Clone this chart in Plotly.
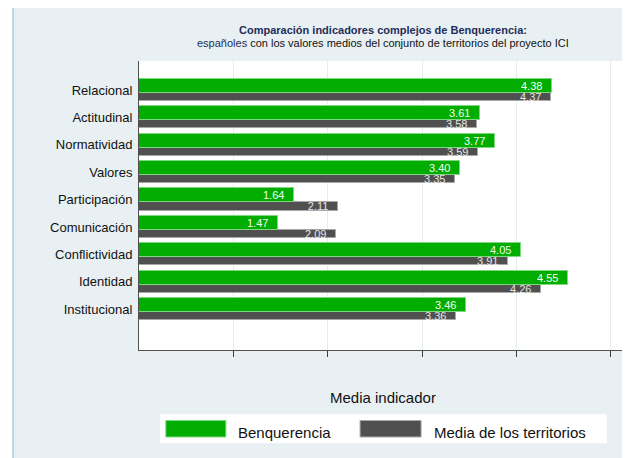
import plotly.graph_objects as go

# Indicadores complejos de Benquerencia
indicadores = ['Relacional', 'Actitudinal', 'Normatividad', 'Valores', 'Participación',
               'Comunicación', 'Conflictividad', 'Identidad', 'Institucional']
benquerencia = [4.38, 3.61, 3.77, 3.40, 1.64, 1.47, 4.05, 4.55, 3.46]
media_territorios = [4.37, 3.58, 3.59, 3.35, 2.11, 2.09, 3.91, 4.26, 3.36]

VERDE = '#00AD00'
GRIS = '#505050'
FONDO = '#E8F0F3'
PAD = '\u00a0\u00a0'

fig = go.Figure()

fig.add_trace(go.Bar(
    x=media_territorios, y=indicadores, orientation='h', name='Media de los territorios',
    marker=dict(color=GRIS, line=dict(color='#A8A8A8', width=1)),
    offset=0.1, width=0.3,
    text=[f'{v:.2f}{PAD}' for v in media_territorios], textposition='inside',
    insidetextanchor='end', textangle=0,
    textfont=dict(color='#E6E6E6', size=11),
))
fig.add_trace(go.Bar(
    x=benquerencia, y=indicadores, orientation='h', name='Benquerencia',
    marker=dict(color=VERDE, line=dict(color='#7ED87E', width=1)),
    offset=-0.41, width=0.51,
    text=[f'{v:.2f}{PAD}' for v in benquerencia], textposition='inside',
    insidetextanchor='end', textangle=0,
    textfont=dict(color='#F2FFF2', size=11),
))

# marco de fondo y área del gráfico
fig.add_shape(type='rect', xref='paper', yref='paper', layer='below',
              x0=-0.258, x1=1.03, y0=-0.42, y1=1.187,
              fillcolor=FONDO, line=dict(color='#BCD6E0', width=2))
fig.add_shape(type='rect', xref='paper', yref='paper', layer='below',
              x0=0, x1=1, y0=0, y1=1, fillcolor='white', line=dict(width=0))

# títulos
fig.add_annotation(text='<b>Comparación indicadores complejos de Benquerencia:</b>',
                   xref='paper', yref='paper', x=0.5, y=1.107, xanchor='center', yanchor='middle',
                   showarrow=False, font=dict(size=11, color='#1F2D5A'))
fig.add_annotation(text='<span style="color:#1F2D5A">españoles</span> con los valores medios del conjunto de territorios del proyecto ICI',
                   xref='paper', yref='paper', x=0.5, y=1.062, xanchor='center', yanchor='middle',
                   showarrow=False, font=dict(size=11, color='#111111'))
fig.add_annotation(text='Media indicador', xref='paper', yref='paper', x=0.5, y=-0.166,
                   xanchor='center', yanchor='middle',
                   showarrow=False, font=dict(size=15, color='#111111'))

# leyenda dibujada a mano (cajas grandes como en el original)
fig.add_shape(type='rect', xref='paper', yref='paper', x0=0.043, x1=0.959, y0=-0.323, y1=-0.222,
              fillcolor='white', line=dict(width=0))
fig.add_shape(type='rect', xref='paper', yref='paper', x0=0.055, x1=0.178, y0=-0.301, y1=-0.244,
              fillcolor=VERDE, line=dict(color='#7ED87E', width=1))
fig.add_shape(type='rect', xref='paper', yref='paper', x0=0.453, x1=0.578, y0=-0.301, y1=-0.244,
              fillcolor=GRIS, line=dict(color='#A8A8A8', width=1))
fig.add_annotation(text='Benquerencia', xref='paper', yref='paper', x=0.199, y=-0.284,
                   xanchor='left', yanchor='middle', showarrow=False,
                   font=dict(size=15, color='#111111'))
fig.add_annotation(text='Media de los territorios', xref='paper', yref='paper', x=0.600, y=-0.284,
                   xanchor='left', yanchor='middle', showarrow=False,
                   font=dict(size=15, color='#111111'))

# la página deja 8 px de margen: el lienzo es 622x450 para caber en 630x458
fig.update_layout(
    width=622, height=450,
    margin=dict(l=131, r=3, t=53, b=108),
    paper_bgcolor='white', plot_bgcolor='rgba(0,0,0,0)',
    font=dict(family='Liberation Sans, Arial', color='#111111'),
    showlegend=False, bargap=0,
    uniformtext=dict(minsize=11, mode='show'),
)
fig.update_xaxes(range=[0, 5.17], tickvals=[1, 2, 3, 4, 5], showticklabels=False,
                 ticks='outside', ticklen=6, tickcolor='#404040',
                 showgrid=True, gridcolor='#E4ECF0', gridwidth=1,
                 showline=True, linecolor='#505050', linewidth=1, zeroline=False)
fig.update_yaxes(type='category', categoryorder='array', categoryarray=indicadores,
                 range=[9.49, -1.06], showline=True, linecolor='#505050', linewidth=1,
                 ticks='', ticklabelstandoff=3, showgrid=False,
                 tickfont=dict(size=13, color='#111111'))

fig.write_html('out.html')
